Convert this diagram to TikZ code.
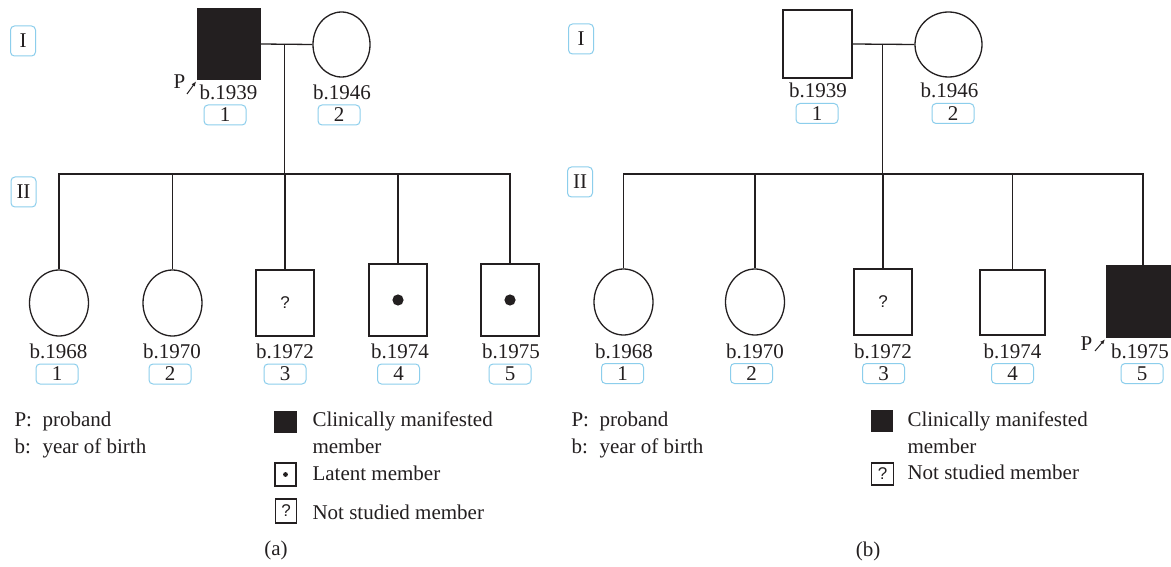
\documentclass[tikz,border=0pt]{standalone}
\usepackage{fontspec}
\setmainfont{Liberation Serif}
\setsansfont{Liberation Sans}
\usetikzlibrary{shapes.geometric,arrows.meta}
\definecolor{ink}{HTML}{231F20}
\definecolor{tagblue}{RGB}{140,206,236}
\begin{document}
\begin{tikzpicture}[x=1pt,y=-1pt,
  every node/.style={font=\fontsize{21}{27}\selectfont, text=ink},
  person/.style={draw=ink, line width=1.3pt, inner sep=0pt, fill=white},
  femalebox/.style={person, ellipse},
  malebox/.style={person, rectangle},
  affected/.style={fill=ink},
  tag/.style={draw=tagblue, line width=1pt, rounded corners=4pt, minimum width=42pt, minimum height=20pt, inner sep=0pt},
  gentag/.style={draw=tagblue, line width=1pt, rounded corners=4pt, minimum width=25pt, minimum height=30pt, inner sep=0pt},
  ask/.style={font=\sffamily\fontsize{17}{17}\selectfont},
  yr/.style={anchor=base},
  line/.style={draw=ink, line width=1.3pt},
  parrow/.style={draw=ink, line width=1pt, -{Latex[length=5pt,width=4pt]}, shorten >=2pt},
  legtext/.style={anchor=base west, align=left}
]
\clip (0,0) rectangle (1171,567);
\fill[white] (0,0) rectangle (1171,567);

% ================= Panel (a) =================
\node[gentag] (gIa) at (23,41) {I};
\node[gentag] (gIIa) at (23.5,192) {II};

\node[malebox, affected, minimum width=62pt, minimum height=70pt] (fa) at (229,44) {};
\node[femalebox, minimum width=57pt, minimum height=65pt] (ma) at (341.5,44.5) {};
\coordinate (midA) at (284.5,44);
\coordinate (sibA) at (284.5,174);
\draw[line] (fa.east) -- (ma.west);
\draw[line] (midA) -- (sibA);

\node[yr] (ya1) at (228.5,100) {b.1939};
\node[tag] (ta1) at (225,115) {1};
\node[yr] (ya2) at (342,100) {b.1946};
\node[tag] (ta2) at (339,115) {2};

\node[anchor=base] (Pa) at (179.5,89) {P};
\coordinate (Pat) at (187,94);
\draw[parrow] (Pat) -- (fa.south west);

\node[femalebox, minimum width=59pt, minimum height=66pt] (ca1) at (59,303) {};
\node[femalebox, minimum width=59pt, minimum height=66pt] (ca2) at (172.5,303) {};
\node[malebox, minimum width=58pt, minimum height=66pt, ask] (ca3) at (285,303) {?};
\node[malebox, minimum width=58pt, minimum height=72pt] (ca4) at (398,300) {};
\node[malebox, minimum width=58pt, minimum height=72pt] (ca5) at (510,300) {};
\fill[ink] (ca4.center) circle (5.6);
\fill[ink] (ca5.center) circle (5.6);

\draw[line] (ca1.north) -- (ca1.north |- sibA) -- (ca5.north |- sibA) -- (ca5.north);
\draw[line] (ca2.north |- sibA) -- (ca2.north);
\draw[line] (ca3.north |- sibA) -- (ca3.north);
\draw[line] (ca4.north |- sibA) -- (ca4.north);

\node[yr] (yb1) at (58.5,358) {b.1968};
\node[yr] (yb2) at (172,358) {b.1970};
\node[yr] (yb3) at (285,358) {b.1972};
\node[yr] (yb4) at (400,358) {b.1974};
\node[yr] (yb5) at (511,358) {b.1975};
\node[tag] (tb1) at (57,374) {1};
\node[tag] (tb2) at (170,374) {2};
\node[tag] (tb3) at (285,374) {3};
\node[tag] (tb4) at (398.5,374) {4};
\node[tag] (tb5) at (510,374) {5};

% legend (a)
\node[legtext] (la1) at (11,426) {\makebox[28pt][l]{P:}proband};
\node[legtext] (la2) at (11,453) {\makebox[28pt][l]{b:}year of birth};
\node[malebox, affected, minimum width=21pt, minimum height=21pt] (sa1) at (285.5,422) {};
\node[legtext] (la3) at (309,453) {Clinically manifested\\member};
\node[malebox, minimum width=21pt, minimum height=23pt] (sa2) at (285.5,474.5) {};
\fill[ink] (sa2.center) circle (2.4);
\node[legtext] (la4) at (309,480) {Latent member};
\node[malebox, minimum width=21pt, minimum height=24pt, ask] (sa3) at (286,511) {?};
\node[legtext] (la5) at (309,519) {Not studied member};
\node[anchor=base] (capa) at (276,555) {(a)};

% ================= Panel (b) =================
\node[gentag] (gIb) at (581,39) {I};
\node[gentag] (gIIb) at (580,182) {II};

\node[malebox, minimum width=69pt, minimum height=68pt] (fb) at (817.5,44) {};
\node[femalebox, minimum width=67pt, minimum height=65pt] (mb) at (948.5,44.5) {};
\coordinate (midB) at (882.3,44);
\coordinate (sibB) at (882.3,174);
\draw[line] (fb.east) -- (mb.west);
\draw[line] (midB) -- (sibB);

\node[yr] (yc1) at (818,98) {b.1939};
\node[tag] (tc1) at (817,113.5) {1};
\node[yr] (yc2) at (949.5,98) {b.1946};
\node[tag] (tc2) at (953,113.5) {2};

\node[femalebox, minimum width=59pt, minimum height=66pt] (cb1) at (623.5,302) {};
\node[femalebox, minimum width=59pt, minimum height=66pt] (cb2) at (755,302) {};
\node[malebox, minimum width=58pt, minimum height=66pt, ask] (cb3) at (883,302) {?};
\node[malebox, minimum width=65pt, minimum height=65pt] (cb4) at (1012.5,302.5) {};
\node[malebox, affected, minimum width=72pt, minimum height=71pt] (cb5) at (1143,301.5) {};

\draw[line] (cb1.north) -- (cb1.north |- sibB) -- (cb5.north |- sibB) -- (cb5.north);
\draw[line] (cb2.north |- sibB) -- (cb2.north);
\draw[line] (cb3.north |- sibB) -- (cb3.north);
\draw[line] (cb4.north |- sibB) -- (cb4.north);

\node[anchor=base] (Pb) at (1086.5,350) {P};
\coordinate (Pbt) at (1095,351);
\draw[parrow] (Pbt) -- (cb5.south west);

\node[yr] (yd1) at (624,358) {b.1968};
\node[yr] (yd2) at (755,358) {b.1970};
\node[yr] (yd3) at (883,358) {b.1972};
\node[yr] (yd4) at (1012.5,358) {b.1974};
\node[yr] (yd5) at (1140,358) {b.1975};
\node[tag] (td1) at (622.5,373.5) {1};
\node[tag] (td2) at (751.5,373.5) {2};
\node[tag] (td3) at (883.5,373.5) {3};
\node[tag] (td4) at (1012.5,373.5) {4};
\node[tag] (td5) at (1142,373.5) {5};

% legend (b)
\node[legtext] (lb1) at (568,426) {\makebox[28pt][l]{P:}proband};
\node[legtext] (lb2) at (568,453) {\makebox[28pt][l]{b:}year of birth};
\node[malebox, affected, minimum width=21pt, minimum height=21pt] (sb1) at (882,421) {};
\node[legtext] (lb3) at (904,453) {Clinically manifested\\member};
\node[malebox, minimum width=22pt, minimum height=22pt, ask] (sb2) at (882.5,474) {?};
\node[legtext] (lb4) at (904,479) {Not studied member};
\node[anchor=base] (capb) at (868,556) {(b)};
\end{tikzpicture}
\end{document}
